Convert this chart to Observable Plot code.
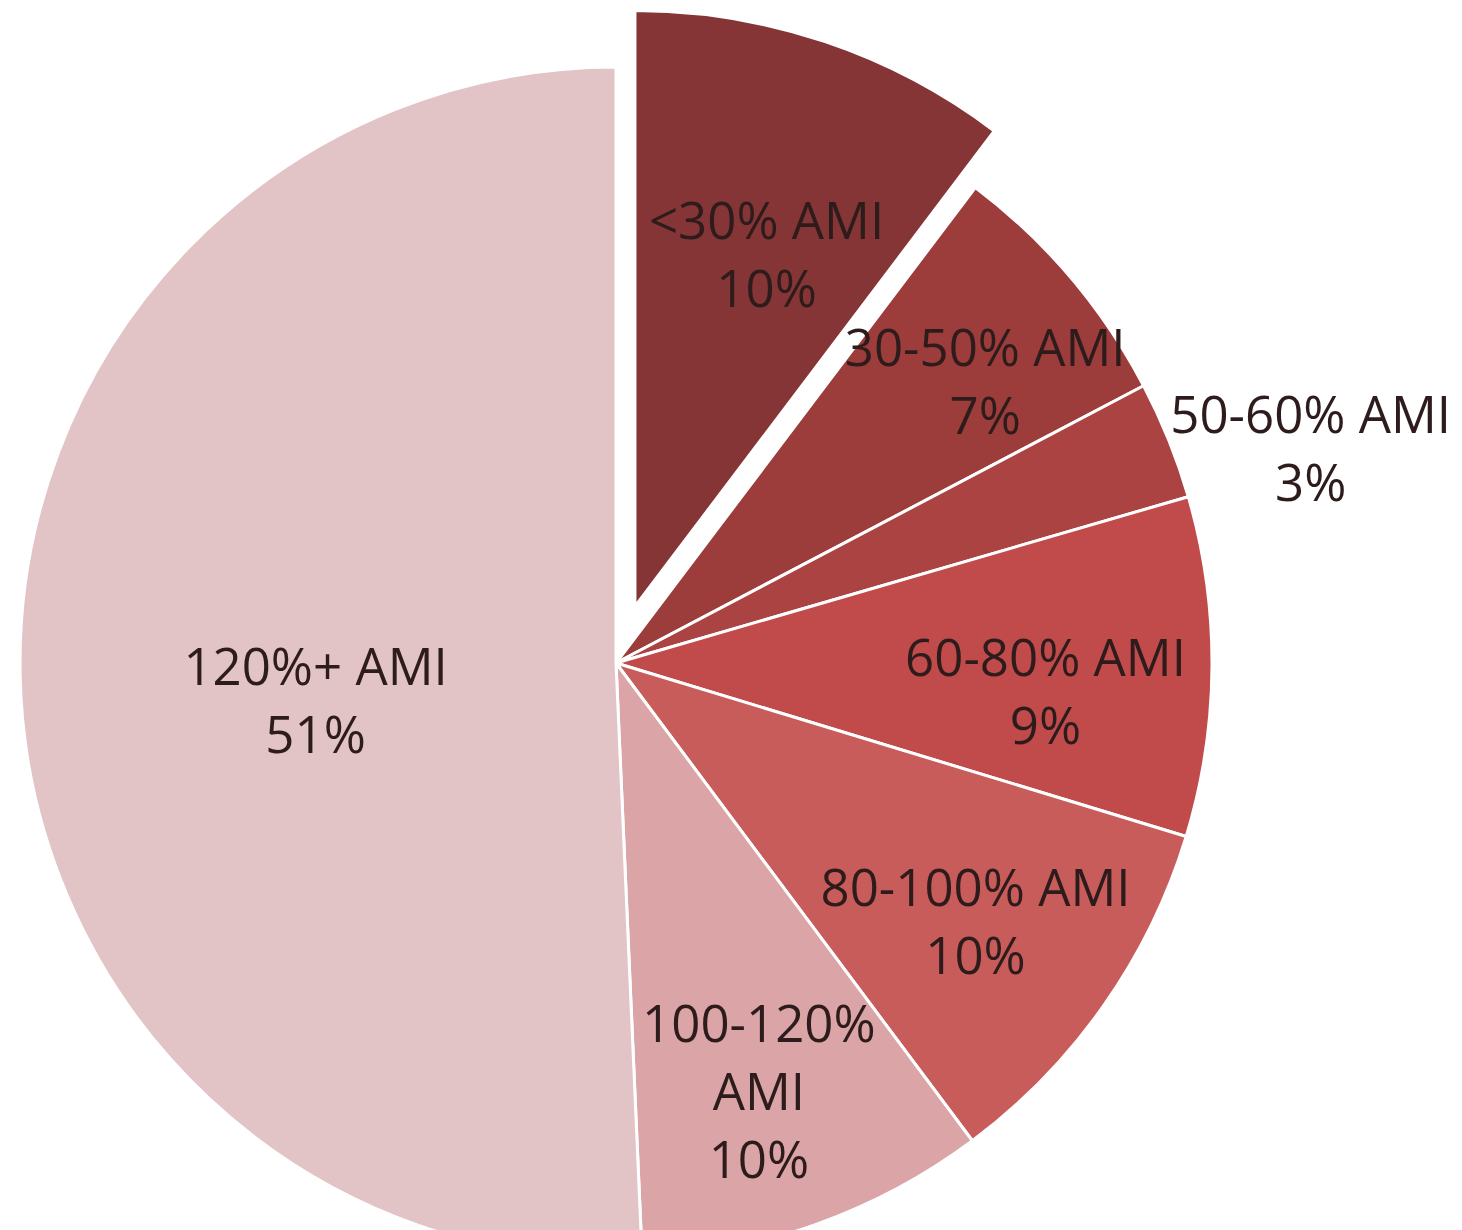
<!DOCTYPE html>
<html><head><meta charset="utf-8">
<script src="https://cdn.jsdelivr.net/npm/d3@7"></script>
<script src="https://cdn.jsdelivr.net/npm/@observablehq/plot@0.6"></script>
<style>html,body{margin:0;padding:0;background:#fff;overflow:hidden}</style>
</head><body><div id="chart"></div>
<script>
// ---- data (shares; labels show them rounded) ----
const categories = ["<30% AMI", "30-50% AMI", "50-60% AMI", "60-80% AMI", "80-100% AMI", "100-120% AMI", "120%+ AMI"];
const shares = [10.3, 7.0, 3.2, 9.2, 10.1, 9.5, 50.7];
const colors = ["#853535", "#9c3c3b", "#aa4342", "#c04b4a", "#c85c5b", "#dba5a8", "#e2c3c6"];
const explodedCategory = "<30% AMI";

// ---- layout (not data) ----
const W = 1462, H = 1230;
const R = 596, CX = 616, CY = 663;     // pie radius and centre in px
const EXPLODE = 0.1;                    // exploded distance, fraction of radius
// label placement: [radius factor, angle shift in degrees from mid angle]
const labelLayout = [[0.636, 1.7], [0.782, 2.6], [1.221, 4.5], [0.721, 2.9], [0.739, 0.3], [0.752, 1.1], [0.508, -5.1]];

const table = categories.map((c, i) => ({category: c, share: shares[i], color: colors[i], explode: c === explodedCategory}));
const arcs = d3.pie().value(d => d.share).sort(null)(table);

const wrap = s => s.length > 11 ? s.replace(" ", "\n") : s;
const labels = arcs.map((a, i) => {
  const mid = (a.startAngle + a.endAngle) / 2;
  const [rf, shift] = labelLayout[i];
  const ang = mid + shift * Math.PI / 180;
  const off = a.data.explode ? EXPLODE : 0;
  return {
    x: rf * Math.sin(ang) + off * Math.sin(mid),
    y: rf * Math.cos(ang) + off * Math.cos(mid),
    text: wrap(a.data.category) + "\n" + Math.round(a.data.share) + "%"
  };
});

function pieMark(index, scales, values, dims) {
  const x0 = scales.x(0), y0 = scales.y(0), r = scales.x(1) - scales.x(0);
  const arc = d3.arc().innerRadius(0).outerRadius(r);
  const g = d3.create("svg:g");
  g.selectAll("path").data(arcs).join("path")
    .attr("transform", d => {
      const mid = (d.startAngle + d.endAngle) / 2;
      const off = d.data.explode ? EXPLODE * r : 0;
      return `translate(${x0 + off * Math.sin(mid)},${y0 - off * Math.cos(mid)})`;
    })
    .attr("d", arc)
    .attr("fill", d => d.data.color)
    .attr("stroke", "#ffffff")
    .attr("stroke-width", 3)
    .attr("stroke-linejoin", "round");
  return g.node();
}

const chart = Plot.plot({
  width: W, height: H,
  margin: 0,
  x: {axis: null, domain: [-CX / R, (W - CX) / R]},
  y: {axis: null, domain: [-(H - CY) / R, CY / R]},
  style: {fontFamily: "'Open Sans', sans-serif", background: "#fff"},
  marks: [
    pieMark,
    Plot.text(labels, {x: "x", y: "y", text: "text", fontSize: 51, lineHeight: 1.33, fill: "#2e1c1c"})
  ]
});
document.getElementById("chart").appendChild(chart);
</script>
</body></html>
